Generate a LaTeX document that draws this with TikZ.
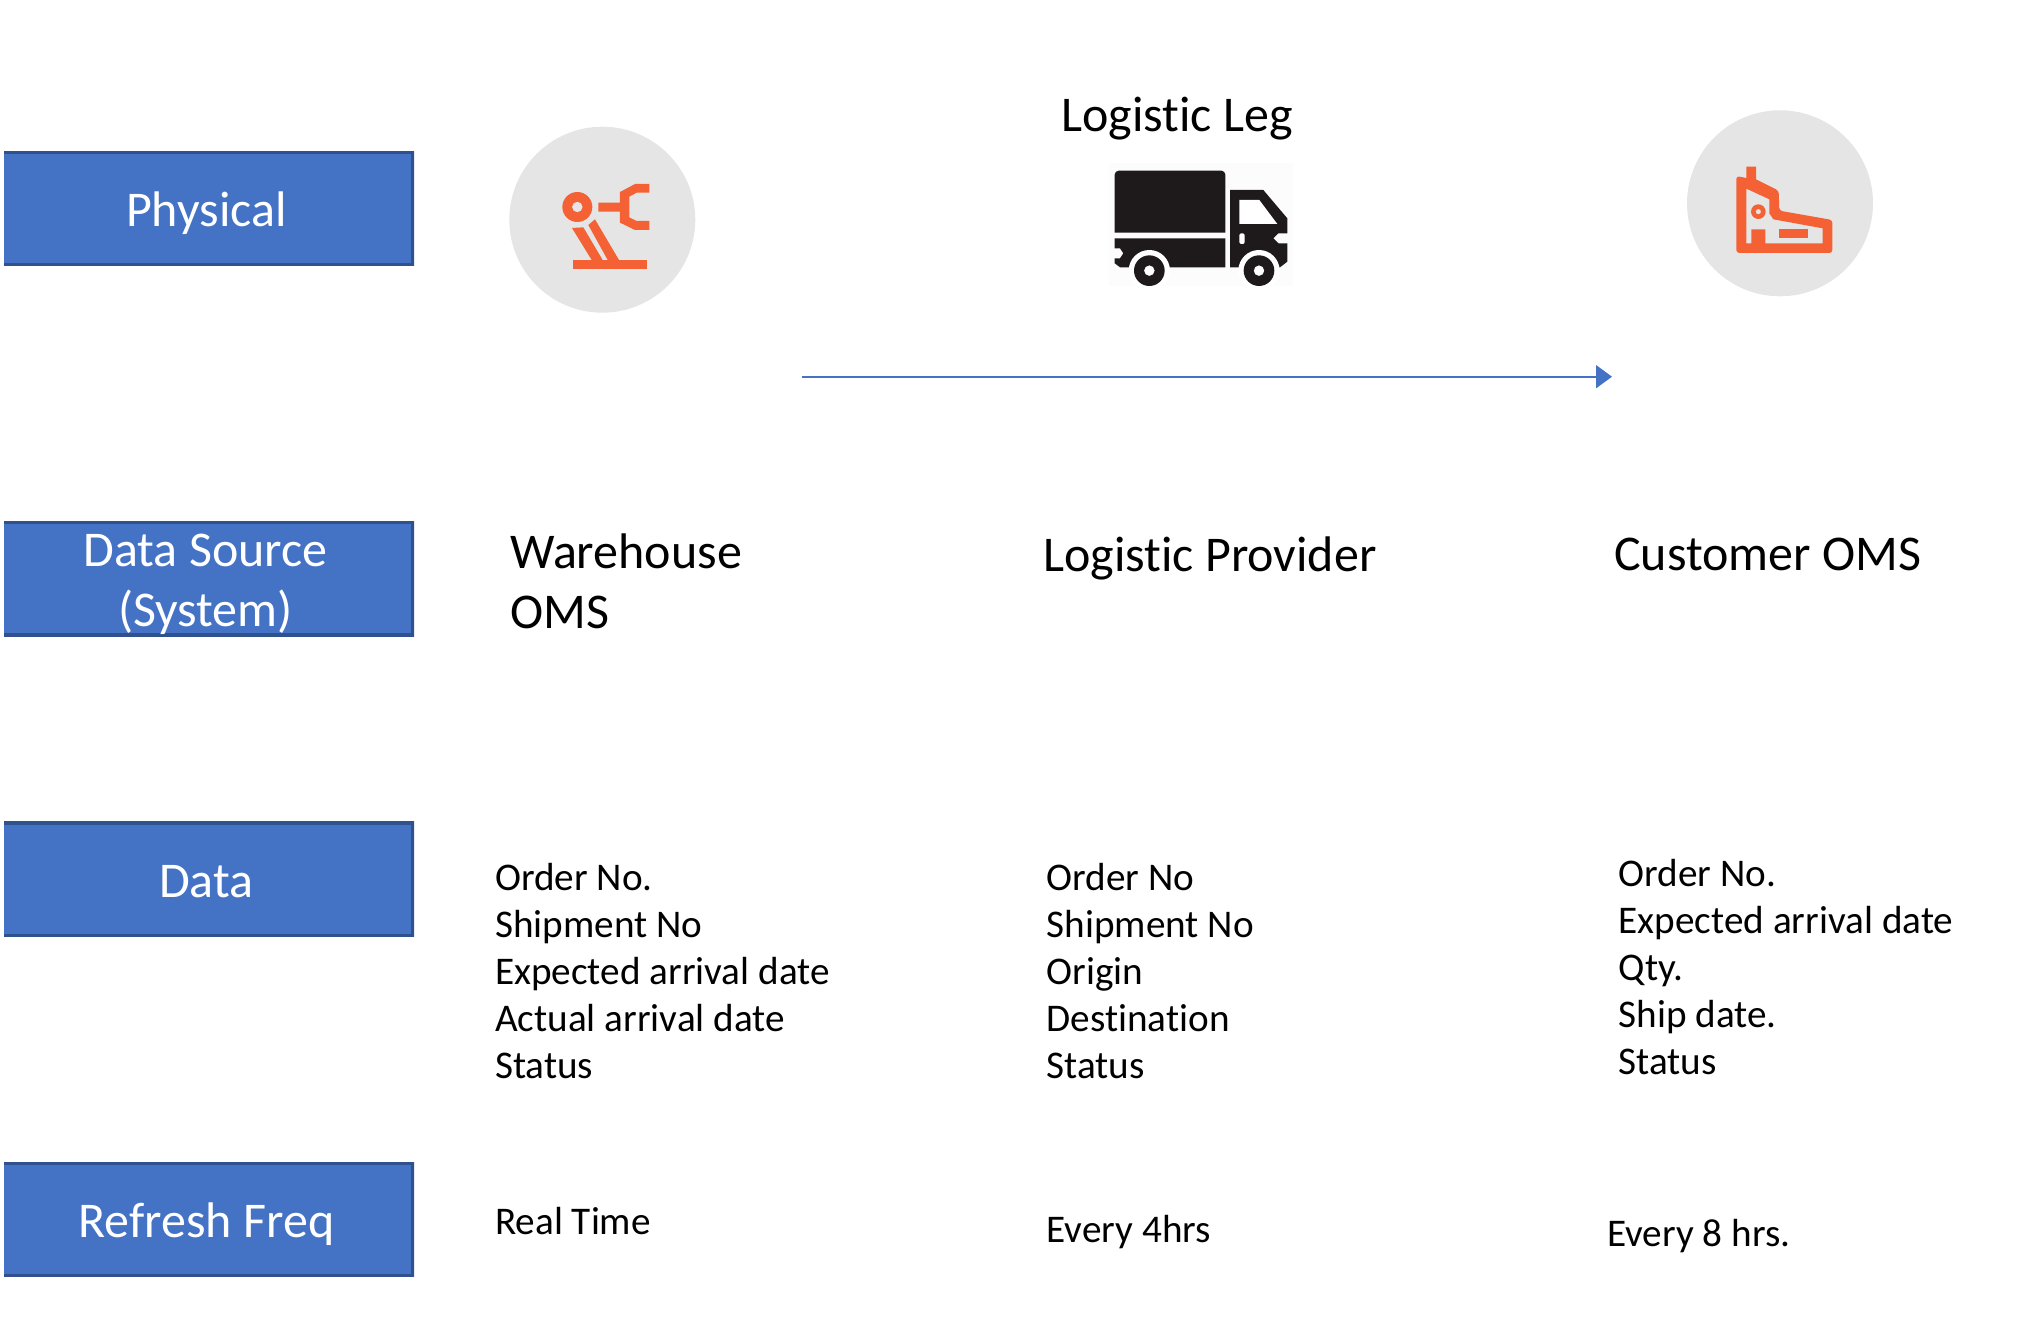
\documentclass[tikz,border=0pt]{standalone}
\usepackage{fontspec}
\setmainfont[Ligatures=CommonOff]{Carlito}
\usetikzlibrary{arrows.meta}
\definecolor{boxfill}{HTML}{4472C4}
\definecolor{boxline}{HTML}{2F528F}
\definecolor{robotred}{HTML}{F46135}
\definecolor{discgrey}{HTML}{E5E5E5}
\definecolor{truckblack}{HTML}{1E1A1B}
\tikzset{
  rowbox/.style={fill=boxfill,minimum width=410pt,minimum height=114.7pt,
    inner sep=0pt,text=white,align=center,font=\fontsize{50}{60}\selectfont,
    path picture={\draw[boxline,line width=5.4pt] (path picture bounding box.north west) -- (path picture bounding box.north east)
      -- (path picture bounding box.south east) -- (path picture bounding box.south west);}},
  oneline/.style={text height=36.2pt,text depth=0pt},
  coltitle/.style={anchor=west,inner sep=0pt,align=left,font=\fontsize{50}{60}\selectfont},
  datatext/.style={anchor=west,inner sep=0pt,align=left,font=\fontsize{39.2}{47}\selectfont},
  disc/.style={circle,fill=discgrey,minimum size=186pt,inner sep=0pt},
  zoomed/.style={x=0.3333pt,y=-0.3333pt}
}
\begin{document}
\begin{tikzpicture}[x=1pt,y=-1pt]
  \useasboundingbox (0,0) rectangle (2044,1343);
  % \draw[help lines,step=100] (0,0) grid (2044,1343);

  \draw (209,208.4) node[rowbox,oneline] (physical) {Physical\hspace*{5.2pt}};
  \draw (209,578.8) node[rowbox] (source) {\rule{0pt}{44pt}Data Source\hspace*{7pt}\\(System)\hspace*{7pt}};
  \draw (209,879.3) node[rowbox,oneline] (data) {Data\hspace*{5.2pt}};
  \draw (209,1219.5) node[rowbox,oneline] (refresh) {Refresh Freq\hspace*{5.2pt}};

  \draw (1177,118.6) node[coltitle,anchor=center] (leg) {Logistic Leg};
  \draw (510,581.5) node[coltitle] (warehouse) {Warehouse\\OMS};
  \draw (1043,558.7) node[coltitle] (provider) {Logistic Provider};
  \draw (1614,554) node[coltitle] (customer) {Customer OMS};

  \draw (495,971) node[datatext] (whdata) {Order No.\\Shipment No\\Expected arrival date\\Actual arrival date\\Status};
  \draw (1046.5,971.5) node[datatext] (lpdata) {Order No\\Shipment No\\Origin\\Destination\\Status};
  \draw (1618.5,967.5) node[datatext] (cudata) {Order No.\\Expected arrival date\\Qty.\\Ship date.\\Status};

  \draw (495,1220.8) node[datatext] (whfreq) {Real Time};
  \draw (1046.5,1232.5) node[datatext] (lpfreq) {Every 4hrs};
  \draw (1607,1236.5) node[datatext] (cufreq) {Every 8 hrs.};

  % leg arrow
  \coordinate (legstart) at (801.7,376.7);
  \coordinate (legend) at (1612,376.7);
  \draw[boxfill,line width=1.7pt,-{Triangle[length=16pt,width=23pt]}] (legstart) -- (legend);

  % robot
  \draw (602.3,219.7) node[disc] (robotdisc) {};
  \begin{scope}[shift={(500,110)},zoomed]
    \fill[robotred,even odd rule] (232,291) circle[radius=45] (232,291) circle[radius=16];
    \fill[robotred] (295,278) -- (360,278) -- (360,246) -- (405,222) -- (448,222) -- (448,248) -- (410,248) -- (388,260)
      -- (388,322) -- (410,333) -- (448,333) -- (448,360) -- (405,360) -- (360,338) -- (360,305) -- (295,305) -- cycle;
    \fill[robotred] (216,354) -- (250,352) -- (308,450) -- (275,450) -- cycle;
    \fill[robotred] (265,345) -- (285,328) -- (357,450) -- (323,450) -- cycle;
    \fill[robotred] (219,450) rectangle (441,477);
  \end{scope}

  % truck
  \begin{scope}[shift={(1100,150)},zoomed]
    \fill[white!99!black] (28,38) rectangle (580,408);
    \fill[truckblack] (44,248) [rounded corners=4pt] -- (44,62) -- (376,62) [sharp corners] -- (376,248) -- cycle;
    \fill[truckblack] (44,265) -- (376,265) -- (376,352) -- (60,352) -- (44,340) -- (44,325) -- (60,325) -- (70,310) -- (60,295) -- (44,295) -- cycle;
    \fill[truckblack] (390,120) -- (490,120) -- (562,205) -- (562,250) -- (535,250) -- (520,265) -- (535,280) -- (562,280)
      -- (562,335) -- (540,352) -- (390,352) -- cycle;
    \fill[white] (418,150) -- (478,150) -- (532,222) -- (418,222) -- cycle;
    \fill[white,rounded corners=2pt] (418,250) rectangle (434,282);
    \foreach \wx in {148,477} {
      \fill[white] (\wx,362) circle[radius=62];
      \fill[truckblack,even odd rule] (\wx,362) circle[radius=46] (\wx,362) circle[radius=16];
    }
  \end{scope}

  % factory
  \draw (1780,203.3) node[disc] (factorydisc) {};
  \begin{scope}[shift={(1690,100)},zoomed]
    \fill[robotred,even odd rule] (169,200) -- (198,200) -- (198,238) [rounded corners=3pt] -- (266,272) -- (268,332) -- (427,360)
      -- (427,459) -- (139,459) -- (139,228) [sharp corners] -- (169,234) -- cycle
      (169,266) -- (238,298) -- (238,340) -- (250,358) -- (398,385) -- (398,430) -- (226,430) -- (226,388) -- (184,388) -- (184,430) -- (169,430) -- cycle;
    \fill[robotred,even odd rule] (205,335) circle[radius=22] (205,335) circle[radius=8];
    \fill[robotred] (268,387) rectangle (355,415);
  \end{scope}
\end{tikzpicture}
\end{document}
